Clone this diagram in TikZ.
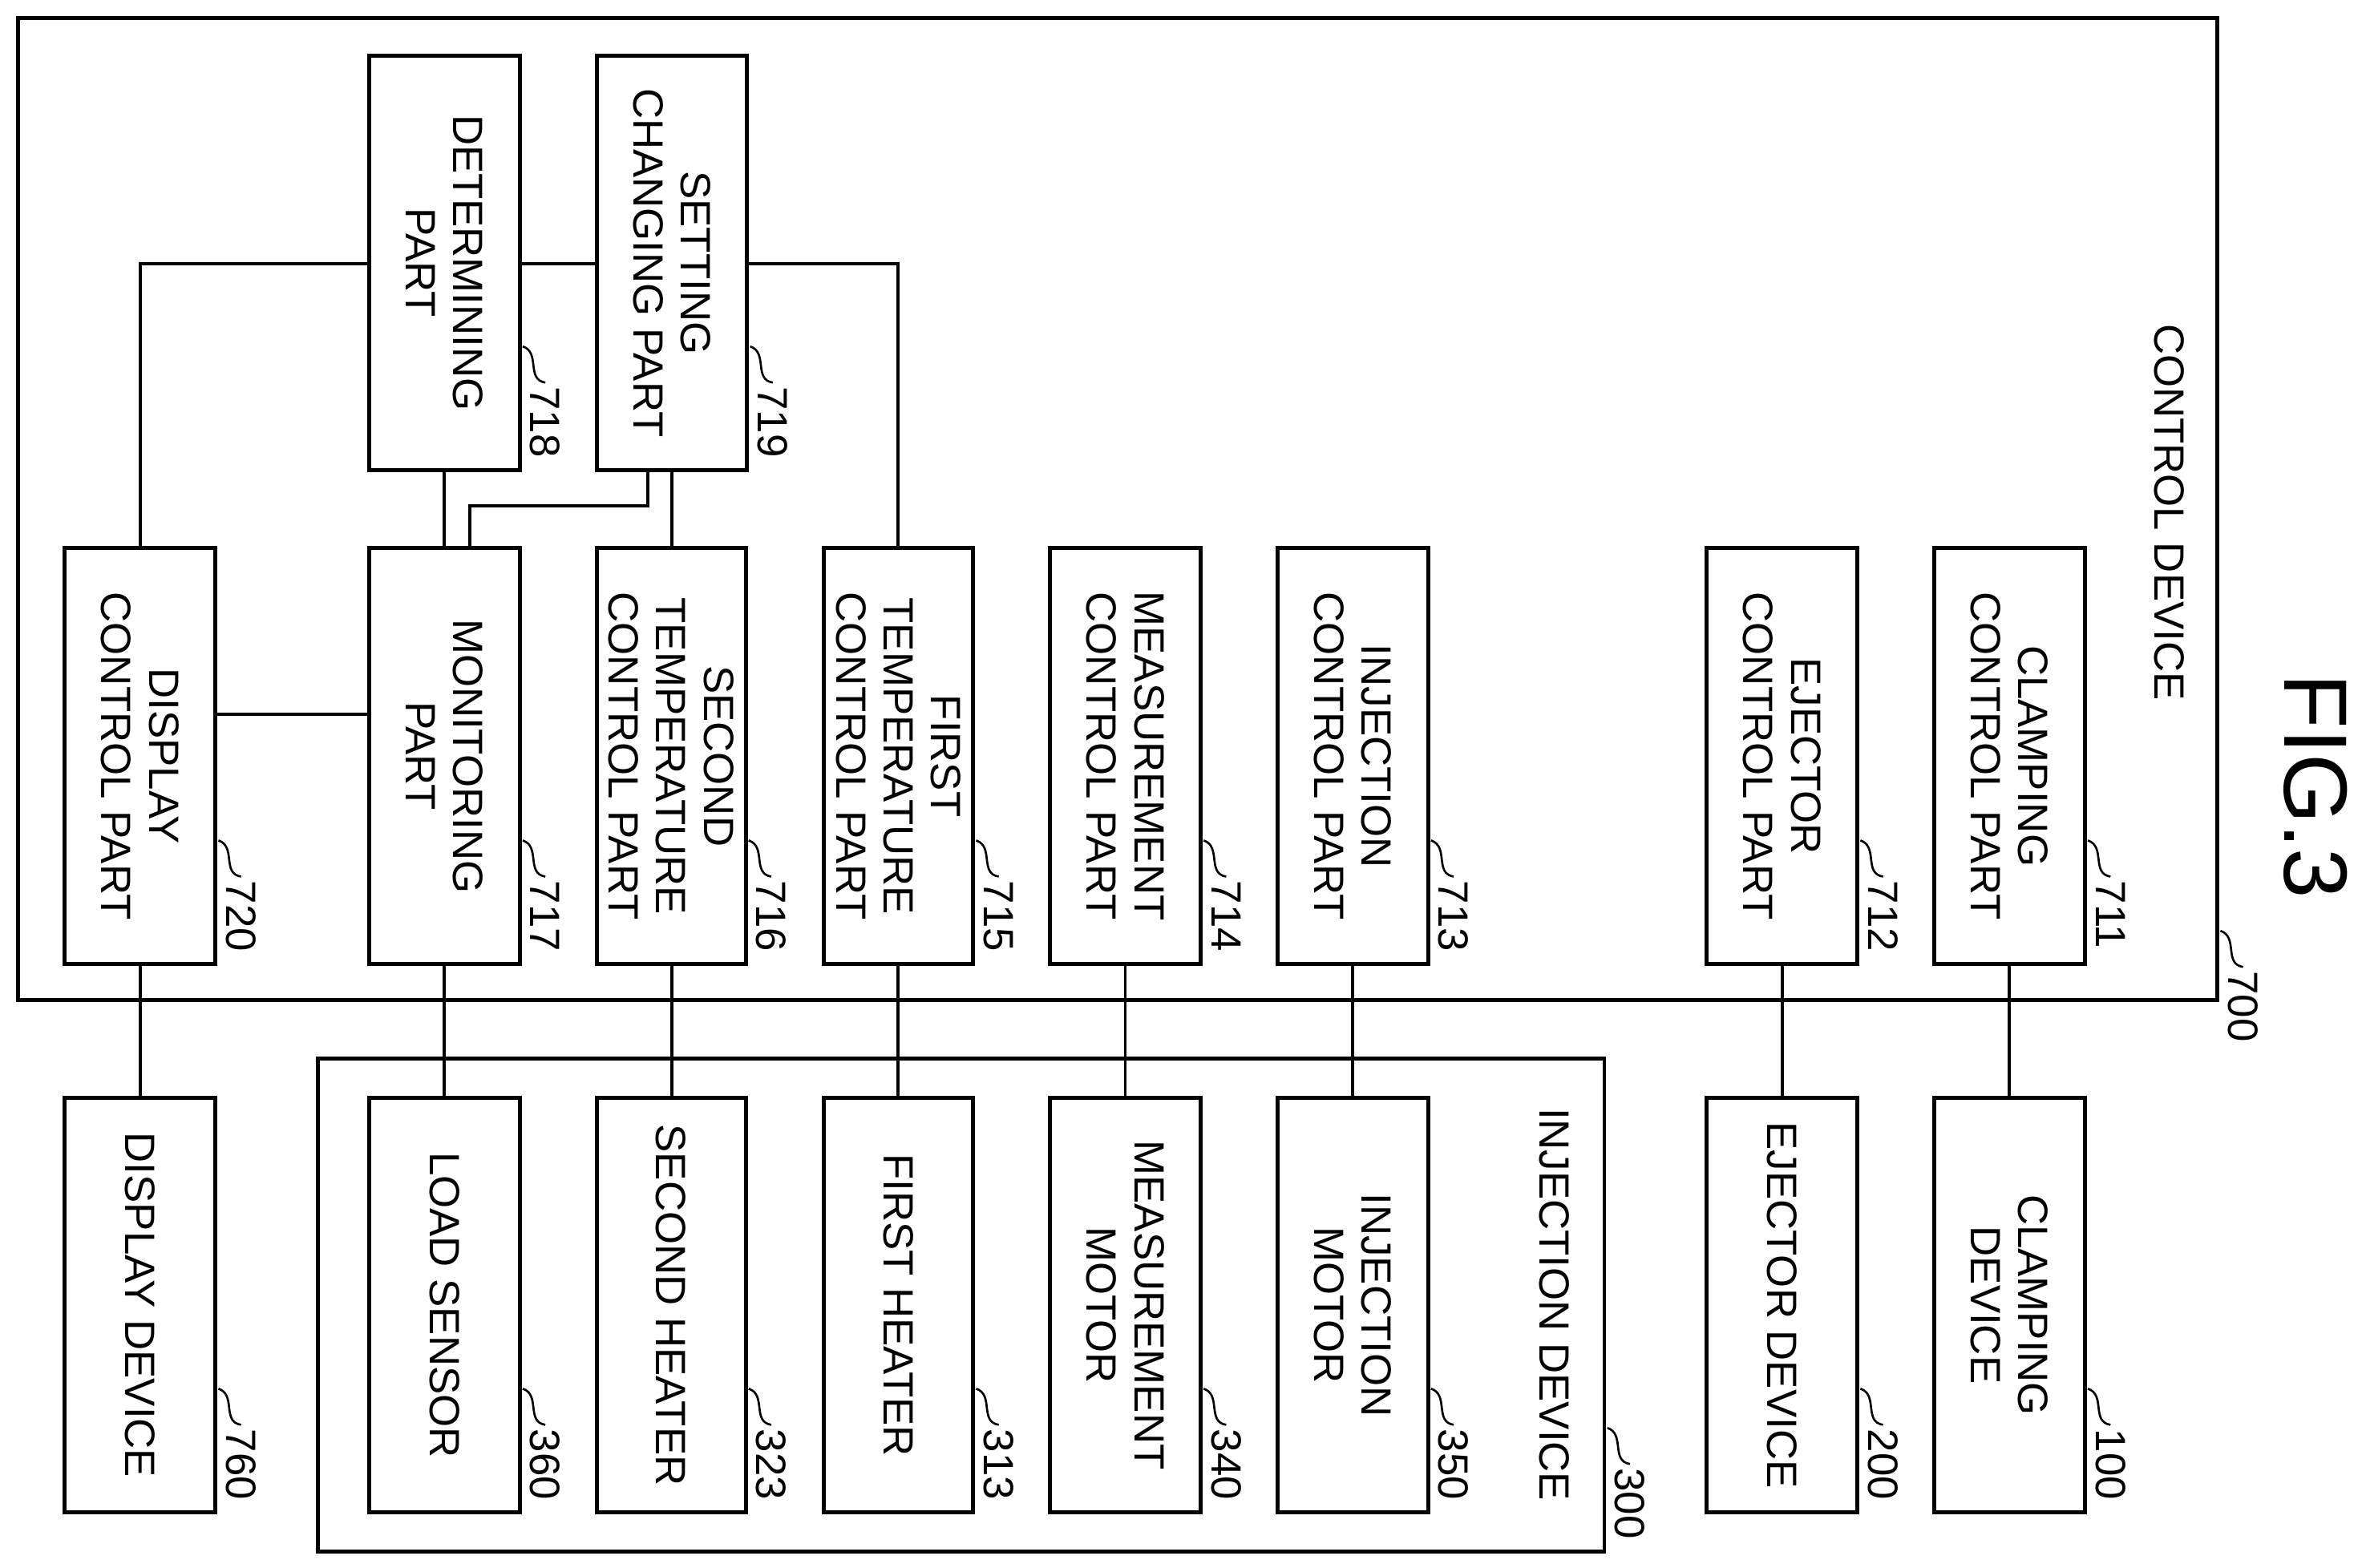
\documentclass[tikz,border=0pt]{standalone}
\usepackage{fontspec}
\setmainfont{Liberation Sans}
\begin{document}
\begin{tikzpicture}[x=0.02cm,y=-0.02cm,line width=1.2pt,
  box/.style={draw,line width=1.5pt},
  lbl/.style={rotate=-90,align=center,font=\fontsize{16}{18}\selectfont},
  num/.style={rotate=-90,anchor=west,font=\fontsize{16}{18}\selectfont,inner sep=1pt}]
\useasboundingbox (0,0) rectangle (1568,1041);
\newcommand\rn[3]{% x right edge, y bottom, number
  \draw[line width=0.8pt] (#1+2,#2-82) .. controls (#1+14,#2-78) and (#1+4,#2-60) .. (#1+17,#2-58);
  \node[num] at (#1+17,#2-58) {#3};}
\newcommand\bx[6]{% name x1 y1 x2 y2 text
  \draw[box] (#2,#3) rectangle (#4,#5);
  \node[lbl] (#1) at ({(#2+#4)/2},{(#3+#5)/2}) {#6};}
% outer boxes
\draw[box] (12,12) rectangle (1472,664);
\node[lbl] at (1440,340) {CONTROL DEVICE};
\rn{1472}{700}{700}
\node[rotate=-90,font=\fontsize{34}{36}\selectfont] at (1537,522) {FIG.3};
\draw[box] (211,703) rectangle (1065,1030);
\node[lbl] at (1032,866) {INJECTION DEVICE};
\rn{1065}{1030}{300}
% upper
\bx{a}{43}{364}{143}{640}{DISPLAY\\CONTROL PART}\rn{143}{640}{720}
\bx{b}{245}{364}{345}{640}{MONITORING\\PART}\rn{345}{640}{717}
\bx{c}{396}{364}{495}{640}{SECOND\\TEMPERATURE\\CONTROL PART}\rn{495}{640}{716}
\bx{d}{547}{364}{646}{640}{FIRST\\TEMPERATURE\\CONTROL PART}\rn{646}{640}{715}
\bx{e}{697}{364}{797}{640}{MEASUREMENT\\CONTROL PART}\rn{797}{640}{714}
\bx{f}{848}{364}{948}{640}{INJECTION\\CONTROL PART}\rn{948}{640}{713}
\bx{g}{1133}{364}{1233}{640}{EJECTOR\\CONTROL PART}\rn{1233}{640}{712}
\bx{h}{1284}{364}{1384}{640}{CLAMPING\\CONTROL PART}\rn{1384}{640}{711}
\bx{t1}{245}{37}{345}{312}{DETERMINING\\PART}\rn{345}{312}{718}
\bx{t2}{396}{37}{496}{312}{SETTING\\CHANGING PART}\rn{496}{312}{719}
% lower
\bx{A}{43}{729}{143}{1004}{DISPLAY DEVICE}\rn{143}{1004}{760}
\bx{B}{245}{729}{345}{1004}{LOAD SENSOR}\rn{345}{1004}{360}
\bx{C}{396}{729}{495}{1004}{SECOND HEATER}\rn{495}{1004}{323}
\bx{D}{547}{729}{646}{1004}{FIRST HEATER}\rn{646}{1004}{313}
\bx{E}{697}{729}{797}{1004}{MEASUREMENT\\MOTOR}\rn{797}{1004}{340}
\bx{F}{848}{729}{948}{1004}{INJECTION\\MOTOR}\rn{948}{1004}{350}
\bx{G}{1133}{729}{1233}{1004}{EJECTOR DEVICE}\rn{1233}{1004}{200}
\bx{H}{1284}{729}{1384}{1004}{CLAMPING\\DEVICE}\rn{1384}{1004}{100}
% connectors
\foreach \x in {93,295,446,596,747,898,1183,1334} \draw (\x,640) -- (\x,729);
\draw (143,474) -- (245,474);
\draw (93,364) -- (93,175) -- (245,175);
\draw (345,175) -- (396,175);
\draw (496,175) -- (596,175) -- (596,364);
\draw (295,312) -- (295,364);
\draw (430,312) -- (430,336) -- (312,336) -- (312,364);
\draw (446,312) -- (446,364);
\end{tikzpicture}
\end{document}
